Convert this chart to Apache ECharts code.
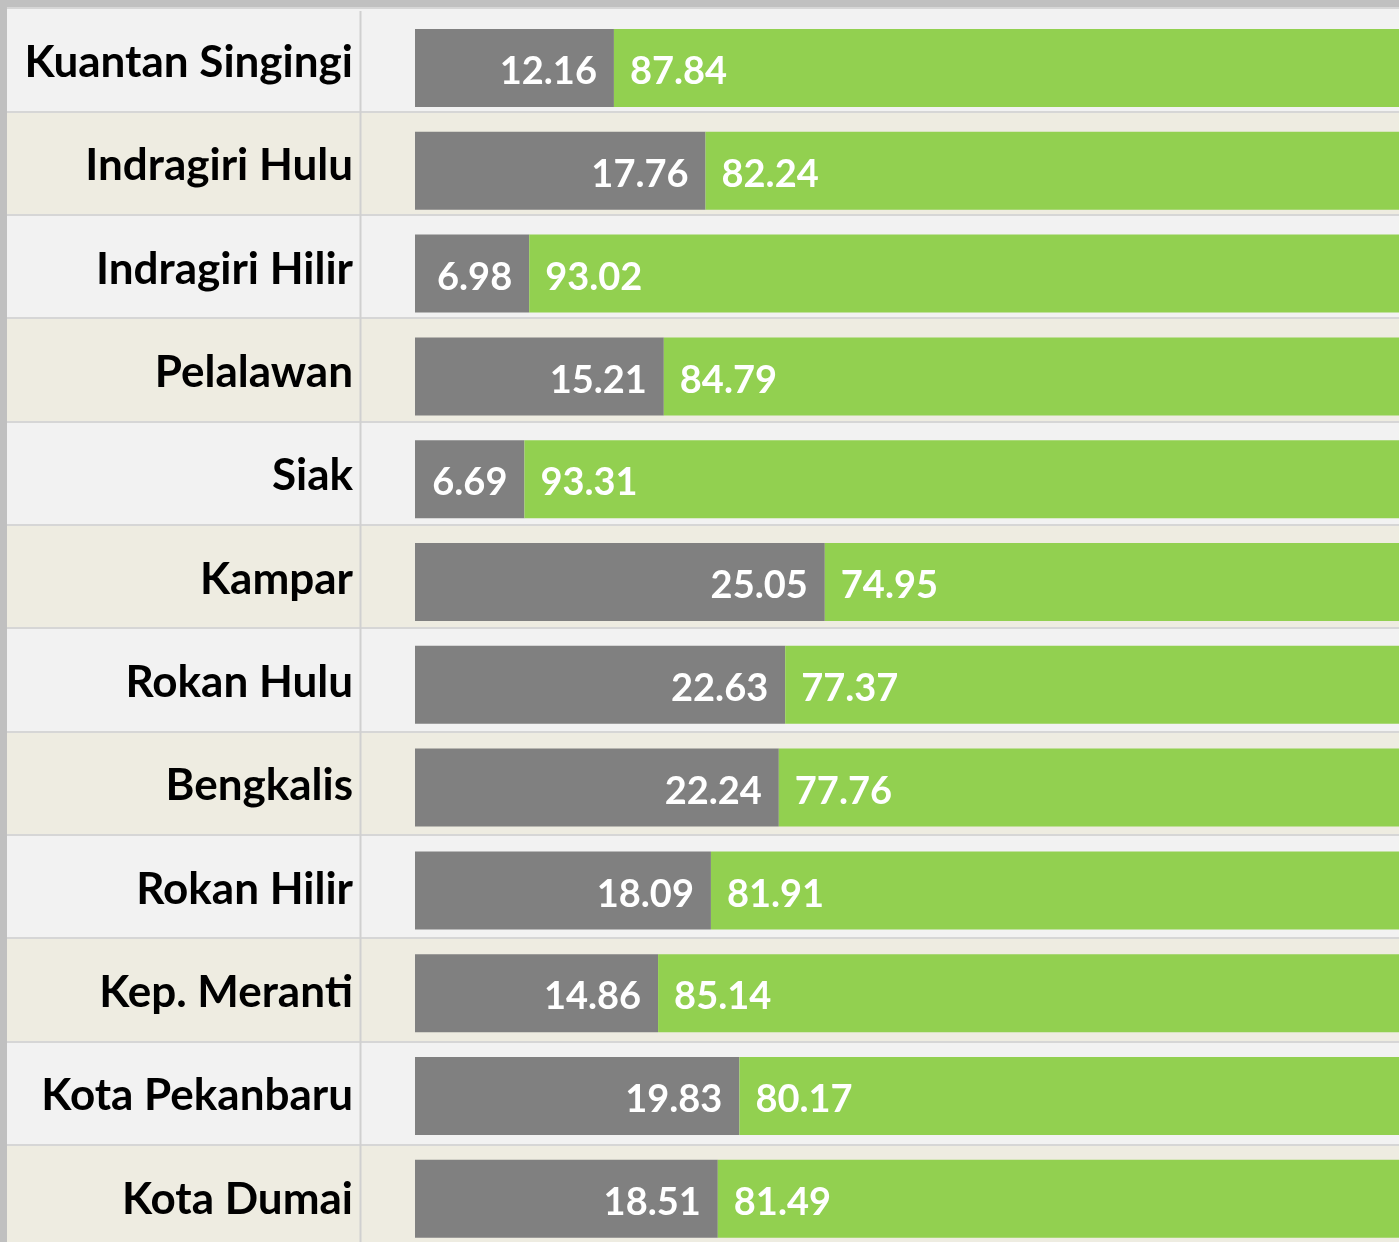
<!DOCTYPE html>
<html>
<head>
<meta charset="utf-8">
<script src="https://cdn.jsdelivr.net/npm/echarts@6/dist/echarts.min.js"></script>
<style>
  html, body { margin: 0; padding: 0; background: #c0c0c0; overflow: hidden; }
  #main { width: 1399px; height: 1260px; }
</style>
</head>
<body>
<div id="main"></div>
<script>
var categories = ["Kuantan Singingi", "Indragiri Hulu", "Indragiri Hilir", "Pelalawan", "Siak", "Kampar",
    "Rokan Hulu", "Bengkalis", "Rokan Hilir", "Kep. Meranti", "Kota Pekanbaru", "Kota Dumai"];
var greyValues = [12.16, 17.76, 6.98, 15.21, 6.69, 25.05, 22.63, 22.24, 18.09, 14.86, 19.83, 18.51];
var greenValues = [87.84, 82.24, 93.02, 84.79, 93.31, 74.95, 77.37, 77.76, 81.91, 85.14, 80.17, 81.49];

var FONT = "Lato";

var state = {
    backgroundColor: "#c0c0c0",
    animation: false,
    textStyle: {
        fontFamily: FONT,
    },
    grid: [
        /* row bands + labels */
        { left: 7, top: 8, right: 0, height: 1240 },
        /* bars */
        { left: 415, top: 16.6, right: 0, height: 1233.6 },
    ],
    graphic: [
        {
            type: "line",
            shape: { x1: 360.5, y1: 11, x2: 360.5, y2: 1260 },
            style: { stroke: "#d0d0d0", lineWidth: 2 },
            z: 5,
        },
    ],
    xAxis: [
        { gridIndex: 0, type: "value", show: false, min: 0, max: 1 },
        { gridIndex: 1, type: "value", show: false, min: 0, max: 60.15 },
    ],
    yAxis: [
        {
            gridIndex: 0,
            type: "category",
            inverse: true,
            data: categories,
            axisLine: { show: false },
            axisTick: { show: false },
            splitArea: {
                show: true,
                areaStyle: { color: ["#f2f2f2", "#eeece1"] },
            },
            splitLine: {
                show: true,
                lineStyle: { color: "#d6d6d6", width: 2 },
            },
            axisLabel: {
                inside: true,
                margin: 346,
                align: "right",
                formatter: "{lbl|{value}}",
                rich: {
                    lbl: {
                        color: "#000000",
                        fontSize: 44,
                        fontWeight: "bold",
                        fontFamily: FONT,
                        padding: [6, 0, 0, 0],
                    },
                },
            },
        },
        {
            gridIndex: 1,
            type: "category",
            inverse: true,
            data: categories,
            show: false,
        },
    ],
    series: [
        {
            name: "grey",
            type: "bar",
            stack: "total",
            xAxisIndex: 1,
            yAxisIndex: 1,
            barWidth: 78,
            itemStyle: { color: "#808080" },
            label: {
                show: true,
                position: "insideRight",
                distance: 17,
                offset: [0, 4],
                color: "#ffffff",
                fontSize: 38,
                fontWeight: "bold",
                fontFamily: FONT,
                formatter: (p) => p.value.toFixed(2),
            },
            data: greyValues,
        },
        {
            name: "green",
            type: "bar",
            stack: "total",
            xAxisIndex: 1,
            yAxisIndex: 1,
            barWidth: 78,
            itemStyle: { color: "#92d050" },
            label: {
                show: true,
                position: "insideLeft",
                distance: 16,
                offset: [0, 4],
                color: "#ffffff",
                fontSize: 38,
                fontWeight: "bold",
                fontFamily: FONT,
                formatter: (p) => p.value.toFixed(2),
            },
            data: greenValues,
        },
    ],
};

var myChart = echarts.init(document.getElementById("main"));
myChart.setOption(state);
</script>
</body>
</html>
